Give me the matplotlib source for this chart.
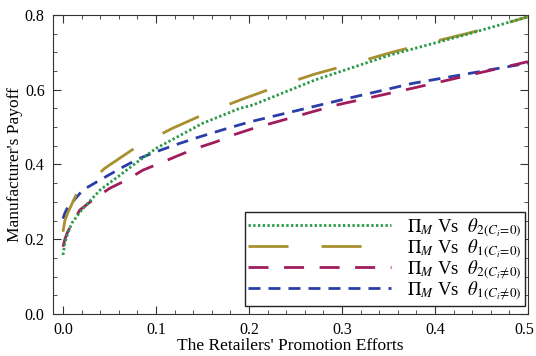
import matplotlib
matplotlib.use("Agg")
import matplotlib.pyplot as plt
import matplotlib.transforms as mtransforms
from matplotlib.ticker import MultipleLocator

plt.rcParams["font.family"] = "serif"
plt.rcParams["font.serif"] = ["Liberation Serif", "DejaVu Serif"]
plt.rcParams["mathtext.fontset"] = "stix"

# values
x_g2 = [0.0, 0.002, 0.005, 0.01, 0.02, 0.04, 0.06, 0.08, 0.1, 0.15, 0.19, 0.204, 0.271, 0.352, 0.43, 0.5]
y_g2 = [0.158, 0.19, 0.216, 0.245, 0.278, 0.332, 0.369, 0.407, 0.443, 0.51, 0.55, 0.559, 0.626, 0.693, 0.745, 0.795]

x_g1 = [0.0, 0.002, 0.005, 0.014, 0.045, 0.079, 0.117, 0.154, 0.192, 0.232, 0.271, 0.312, 0.352, 0.391, 0.434, 0.472, 0.5]
y_g1 = [0.22, 0.25, 0.27, 0.318, 0.39, 0.447, 0.496, 0.537, 0.574, 0.61, 0.642, 0.67, 0.699, 0.724, 0.75, 0.775, 0.795]

x_m2 = [0.0, 0.002, 0.005, 0.018, 0.032, 0.05, 0.068, 0.086, 0.104, 0.125, 0.143, 0.165, 0.183, 0.204, 0.294, 0.376, 0.5]
y_m2 = [0.18, 0.2, 0.22, 0.278, 0.305, 0.336, 0.358, 0.385, 0.403, 0.425, 0.443, 0.461, 0.479, 0.496, 0.559, 0.604, 0.675]

x_b1 = [0.0, 0.002, 0.005, 0.0215, 0.043, 0.065, 0.082, 0.1, 0.125, 0.147, 0.176, 0.201, 0.298, 0.376, 0.5]
y_b1 = [0.255, 0.27, 0.285, 0.332, 0.363, 0.394, 0.416, 0.434, 0.456, 0.474, 0.496, 0.514, 0.572, 0.617, 0.671]

fig = plt.figure(figsize=(5.36, 3.56), dpi=100)
ax = fig.add_axes([0.099, 0.118, 0.886, 0.840])

lw = 2.0
l_b, = ax.plot(x_b1, y_b1, color='#2a3ea8', lw=lw, dashes=(4.3, 2.9), zorder=2)
l_m, = ax.plot(x_m2, y_m2, color='#a01c5c', lw=lw, dashes=(7.2, 5.6), zorder=3)
l_g1, = ax.plot(x_g1, y_g1, color='#a89030', lw=lw, dashes=(14.4, 11.9), zorder=4)
l_g2, = ax.plot(x_g2, y_g2, color='#2a9a48', lw=2.0, dashes=(0.85, 0.85), zorder=5)

ax.set_xlim(-0.0107, 0.5)
ax.set_ylim(0, 0.8)
ax.xaxis.set_major_locator(MultipleLocator(0.1))
ax.xaxis.set_minor_locator(MultipleLocator(0.02))
ax.yaxis.set_major_locator(MultipleLocator(0.2))
ax.yaxis.set_minor_locator(MultipleLocator(0.05))
ax.tick_params(which='both', direction='in', top=True, right=True, labelsize=11.5, color='#333333')
ax.tick_params(which='major', length=6, pad=6)
ax.tick_params(which='minor', length=3)
ax.xaxis.set_major_formatter(plt.FuncFormatter(lambda v, p: '%.1f' % v))
ax.yaxis.set_major_formatter(plt.FuncFormatter(lambda v, p: '%.1f' % v))
for s in ax.spines.values():
    s.set_color('#333333')

# last x tick label sits a bit left so it stays inside the figure
fig.canvas.draw()
last = [t for t in ax.get_xticklabels() if t.get_text() == '0.5']
for t in last:
    t.set_transform(t.get_transform() + mtransforms.ScaledTranslation(-4 / 100, 0, fig.dpi_scale_trans))

ax.set_xlabel("The Retailers' Promotion Efforts", fontsize=12.5, labelpad=0)
ax.set_ylabel("Manufacturer's Payoff", fontsize=12.5, labelpad=1)

leg = ax.legend([l_g2, l_g1, l_m, l_b],
                [r'$\Pi_M$ Vs  $\theta_{2(C_i\!=\!0)}$',
                 r'$\Pi_M$ Vs  $\theta_{1(C_i\!=\!0)}$',
                 r'$\Pi_M$ Vs  $\theta_{2(C_i\!\neq\!0)}$',
                 r'$\Pi_M$ Vs  $\theta_{1(C_i\!\neq\!0)}$'],
                loc='lower right', bbox_to_anchor=(0.994, 0.027), borderaxespad=0,
                fontsize=13.5, handlelength=7.6, fancybox=False,
                framealpha=1, edgecolor='#222222', borderpad=0.2, labelspacing=-0.08,
                handletextpad=0.85)
leg.get_frame().set_linewidth(1.0)

fig.savefig('out.png', dpi=100)
